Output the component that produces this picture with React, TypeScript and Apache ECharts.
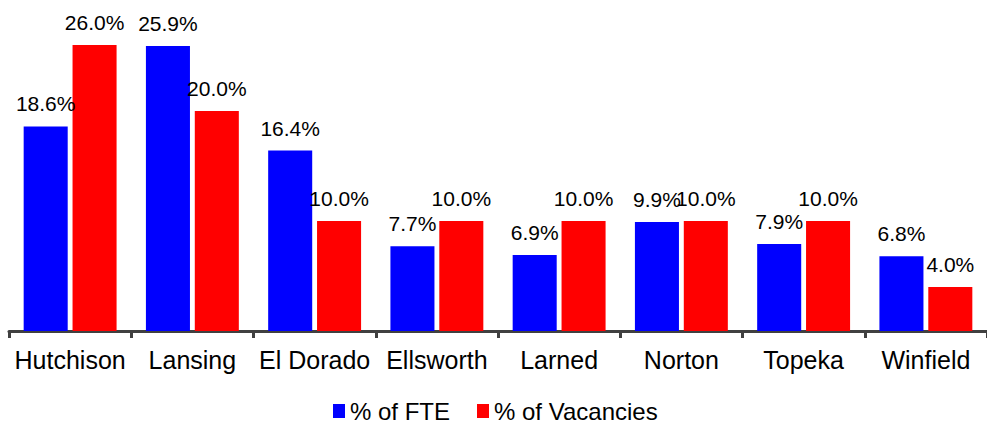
import React, { useEffect, useRef } from "react";
import * as echarts from "echarts";

const categories = ["Hutchison", "Lansing", "El Dorado", "Ellsworth", "Larned", "Norton", "Topeka", "Winfield"];
const fteValues = [18.6, 25.9, 16.4, 7.7, 6.9, 9.9, 7.9, 6.8];
const vacancyValues = [26.0, 20.0, 10.0, 10.0, 10.0, 10.0, 10.0, 4.0];
const seriesNames = ["% of FTE", "% of Vacancies"];

export default function App() {
  const ref = useRef<HTMLDivElement>(null);
  useEffect(() => {
    if (!ref.current) return;
    const chart = echarts.init(ref.current, null, { renderer: "svg" });
    const font = "'Liberation Sans', Arial, sans-serif";
    const label = {
      show: true,
      position: "top",
      distance: 12,
      fontSize: 21,
      fontFamily: font,
      color: "#000",
      formatter: (p: any) => p.value.toFixed(1) + "%",
    };
    chart.setOption({
      animation: false,
      backgroundColor: "#fff",
      textStyle: { fontFamily: font },
      grid: { left: 9, right: -3, top: 1, bottom: 92, containLabel: false },
      legend: {
        data: seriesNames,
        left: 333,
        top: 399,
        padding: 0,
        itemWidth: 12,
        itemHeight: 14,
        itemGap: 27,
        icon: "rect",
        textStyle: { fontSize: 24, lineHeight: 21, fontFamily: font, color: "#000" },
      },
      xAxis: {
        type: "category",
        data: categories,
        axisLine: { show: true, lineStyle: { color: "#404040", width: 3 } },
        axisTick: { show: true, length: 7, lineStyle: { color: "#404040", width: 3 } },
        axisLabel: { fontSize: 25, fontFamily: font, color: "#000", margin: 16, interval: 0 },
      },
      yAxis: {
        type: "value",
        min: 0,
        max: 30,
        show: false,
        splitLine: { show: false },
      },
      series: [
        {
          name: seriesNames[0],
          type: "bar",
          data: fteValues,
          itemStyle: { color: "#0000FF" },
          barGap: "11%",
          barCategoryGap: "24%",
          label,
        },
        {
          name: seriesNames[1],
          type: "bar",
          data: vacancyValues,
          itemStyle: { color: "#FF0000" },
          barGap: "11%",
          barCategoryGap: "24%",
          label,
        },
      ],
    });
    return () => chart.dispose();
  }, []);
  return (
    <div
      ref={ref}
      style={{ position: "fixed", left: 0, top: 0, width: 987, height: 423, background: "#fff" }}
    />
  );
}
